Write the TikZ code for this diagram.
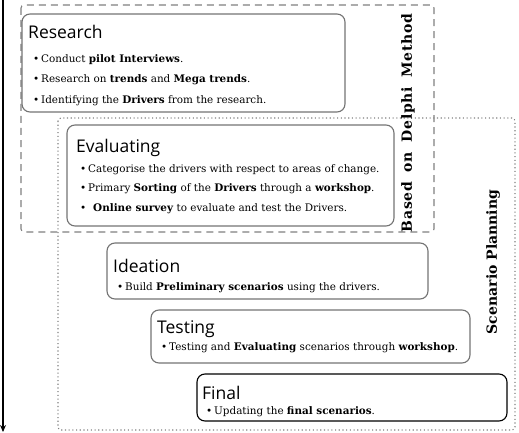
\documentclass[tikz,border=0pt]{standalone}
\usepackage{fontspec}
\setmainfont{DejaVu Serif}
\newfontfamily\titlefont{Open Sans}
\newfontfamily\spacedbold[LetterSpace=5]{DejaVu Serif Bold}
\usetikzlibrary{arrows.meta}
\tikzset{
  stepbox/.style={draw=black!55, line width=1.1pt, rounded corners=8pt},
  finalbox/.style={draw=black, line width=1.1pt, rounded corners=8pt},
  ttl/.style={anchor=base west, inner sep=0pt, font=\titlefont\fontsize{17.5}{19}\selectfont},
  body/.style={anchor=base west, inner sep=0pt, font=\fontsize{10.4}{12}\selectfont},
  sidelbl/.style={rotate=90, inner sep=0pt, font=\bfseries\fontsize{14}{16}\selectfont},
  delphi/.style={draw=black!50, line width=1.1pt, dash pattern=on 7pt off 5pt, rounded corners=3pt},
  scen/.style={draw=black!50, line width=1.1pt, dash pattern=on 1.1pt off 2.6pt, rounded corners=3pt},
}
\newcommand{\bul}{\makebox[8pt][l]{\textbullet}}
\begin{document}
\begin{tikzpicture}[x=1pt,y=-1pt]
\useasboundingbox (0,0) rectangle (519,433);
% frames
\coordinate (dA) at (21,5); \coordinate (dB) at (434,232);
\draw[delphi] (dA) rectangle (dB);
\coordinate (sA) at (58,118); \coordinate (sB) at (515,430);
\draw[scen] (sA) rectangle (sB);
% time arrow
\coordinate (aTop) at (3,0); \coordinate (aBot) at (3,432);
\draw[line width=1.6pt, -{Stealth[length=7pt,width=6pt]}] (aTop) -- (aBot);
% boxes
\coordinate (r1) at (22,14); \coordinate (r2) at (345,112);
\draw[stepbox] (r1) rectangle (r2);
\coordinate (e1) at (67,125); \coordinate (e2) at (394,226);
\draw[stepbox] (e1) rectangle (e2);
\coordinate (i1) at (107,243); \coordinate (i2) at (428,299);
\draw[stepbox] (i1) rectangle (i2);
\coordinate (t1) at (151,310); \coordinate (t2) at (470,363);
\draw[stepbox] (t1) rectangle (t2);
\coordinate (f1) at (197,374); \coordinate (f2) at (507,421);
\draw[finalbox] (f1) rectangle (f2);
% Research
\node[ttl] (rt) at (28,39) {Research};
\node[body] (rl1) at (33,63) {\bul Conduct \textbf{pilot Interviews}.};
\node[body] (rl2) at (33,83) {\bul Research on \textbf{trends} and \textbf{Mega trends}.};
\node[body] (rl3) at (33,104) {\bul Identifying the \textbf{Drivers} from the research.};
% Evaluating
\node[ttl] (et) at (76,153) {Evaluating};
\node[body] (el1) at (80,172) {\bul Categorise the drivers with respect to areas of change.};
\node[body] (el2) at (80,191) {\bul Primary \textbf{Sorting} of the \textbf{Drivers} through a \textbf{workshop}.};
\node[body] (el3) at (80,211) {\makebox[13pt][l]{\textbullet}\textbf{Online survey} to evaluate and test the Drivers.};
% Ideation
\node[ttl] (it) at (113,272) {Ideation};
\node[body] (il1) at (117,290) {\bul Build \textbf{Preliminary scenarios} using the drivers.};
% Testing
\node[ttl] (tt) at (157,333) {Testing};
\node[body] (tl1) at (161,350) {\bul Testing and \textbf{Evaluating} scenarios through \textbf{workshop}.};
% Final
\node[ttl] (ft) at (202,399) {Final};
\node[body] (fl1) at (206,414) {\bul Updating the \textbf{final scenarios}.};
% side labels
\node[sidelbl, font=\spacedbold\fontsize{14}{16}\selectfont] (delphiL) at (408,123) {\makebox[218pt][s]{Based on Delphi Method}};
\node[sidelbl] (scenL) at (493,262) {Scenario Planning};
\end{tikzpicture}
\end{document}
